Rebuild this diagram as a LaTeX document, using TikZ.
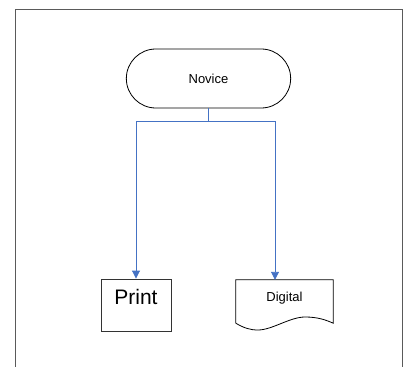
\documentclass[tikz,border=0pt]{standalone}
\usepackage{fontspec}
\setmainfont{Liberation Sans}
\usetikzlibrary{shapes.misc,arrows.meta}
\definecolor{flowblue}{RGB}{68,114,196}
\definecolor{framegray}{RGB}{90,90,90}

\begin{document}
\begin{tikzpicture}[x=1pt,y=-1pt,
	flow/.style={draw=flowblue, line width=0.9pt, -{Triangle[width=8pt,length=8pt]}},
	stem/.style={draw=flowblue, line width=0.9pt},
	txt/.style={font=\fontsize{13}{15}\selectfont}]
	\useasboundingbox (0,0) rectangle (408,367);

	% outer frame, open at the bottom
	\draw[framegray, line width=0.9pt] (15,367) -- (15,9) -- (402,9) -- (402,367);

	\node[shape=rounded rectangle,draw=black,line width=0.8pt,minimum width=171pt,minimum height=59pt,txt] (nov) at (208.5,78.5) {Novice};
	\node[shape=rectangle,draw=black!80,line width=0.9pt,minimum width=70pt,minimum height=52pt,font=\fontsize{21}{25}\selectfont,text height=15pt,text depth=17pt] (prt) at (136,305) {Print};
	\node[shape=rectangle,minimum width=97pt,minimum height=43pt,txt,text depth=9pt] (dig) at (284.5,301.5) {Digital};
	\coordinate (jn) at (208.5,121);

	% document outline with wavy bottom
	\draw[black, line width=0.8pt] (dig.south west) -- (dig.north west) -- (dig.north east) -- (dig.south east)
		.. controls (326,320) and (318,317) .. (305,317)
		.. controls (290,317) and (272,330) .. (258,330)
		.. controls (250,330) and (244,328) .. (dig.south west);

	\draw[stem] (nov.south) -- (jn);
	\draw[flow] (jn) -| (prt.north);
	\draw[flow] (jn) -| ([xshift=-9.5pt]dig.north);
\end{tikzpicture}
\end{document}
